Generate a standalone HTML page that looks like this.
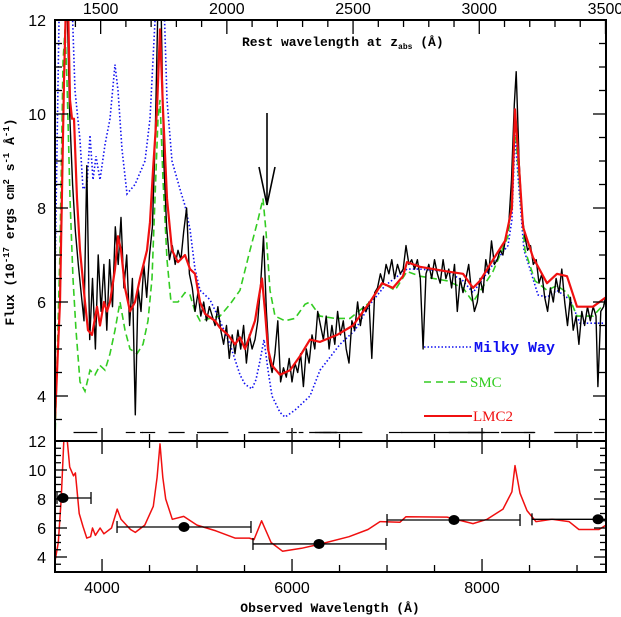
<!DOCTYPE html>
<html><head><meta charset="utf-8">
<style>
html,body{margin:0;padding:0;background:#fff;}
svg{display:block;}
text{font-family:"Liberation Sans",sans-serif;}
.lab{font-family:"Liberation Mono",monospace;font-weight:bold;font-size:13px;}
</style></head>
<body>
<svg id="chart" width="621" height="617" viewBox="0 0 621 617" xmlns="http://www.w3.org/2000/svg">
<defs>
<clipPath id="ctop"><rect x="55" y="20" width="551" height="421"/></clipPath>
<clipPath id="cbot"><rect x="55" y="441" width="551" height="131"/></clipPath>
</defs>
<g id="gTop" clip-path="url(#ctop)"></g>
<g id="gBot" clip-path="url(#cbot)"></g>
<g id="gAxes"></g>
</svg>
<script>
// ---------- data ----------
const redWave=[3505,3558,3600,3621,3642,3663,3684,3705,3737,3768,3821,3852,3895,3947,3979,4021,4052,4084,4137,4168,4200,4242,4294,4347,4400,4473,4505,4537,4579,4610,4642,4684,4737,4800,4873,4926,4979,5031,5084,5189,5242,5326,5400,5452,5505,5558,5610,5642,5684,5716,5747,5789,5873,5979,6084,6189,6294,6473,6642,6821,6947,7063,7168,7210,7347,7631,7800,7905,7979,8116,8242,8315,8347,8379,8431,8537,8684,8789,8894,9000,9168,9305];
const redFlux=[3.5,6.0,10.7,12.4,12.4,10.3,9.9,9.9,8.2,7.1,6.0,5.4,5.3,5.9,5.5,6.0,5.8,6.0,6.7,7.4,7.1,6.3,5.8,6.0,6.5,7.1,7.7,8.8,10.1,11.8,10.1,8.2,7.1,6.85,7.0,6.7,6.6,6.0,5.75,5.6,5.45,5.3,5.1,5.25,5.0,5.3,5.6,6.0,6.5,5.8,5.0,4.65,4.45,4.55,4.85,5.2,5.15,5.3,5.5,6.0,6.4,6.3,6.55,6.85,6.75,6.65,6.6,6.3,6.45,6.9,7.3,8.0,10.1,9.2,7.6,6.95,6.4,6.6,6.55,5.9,5.9,6.1];
const smcWave=[3505,3558,3589,3610,3631,3663,3695,3726,3768,3821,3873,3926,3979,4031,4084,4137,4189,4242,4294,4368,4431,4484,4526,4558,4589,4610,4642,4684,4726,4800,4873,4926,4979,5031,5137,5242,5347,5452,5558,5642,5694,5726,5768,5821,5926,6031,6137,6189,6294,6452,6610,6821,6958,7084,7210,7347,7631,7800,7905,8116,8273,8315,8347,8389,8452,8558,8684,8789,8894,9000,9168,9305];
const smcFlux=[3.05,7.1,11.1,11.8,10.7,8.2,6.5,5.4,4.3,4.1,4.55,4.45,4.65,4.55,4.9,5.4,6.0,5.4,5.0,4.9,5.1,5.6,6.5,8.2,9.9,10.3,8.6,6.9,6.0,6.0,6.2,6.15,5.8,5.6,5.65,5.7,5.95,6.25,7.1,7.75,8.2,7.5,6.25,5.7,5.6,5.65,5.95,6.0,5.7,5.65,5.65,6.0,6.4,6.25,6.65,6.55,6.45,6.3,6.0,6.65,7.4,8.15,9.8,8.6,7.1,6.45,6.25,6.35,6.2,5.7,5.7,6.0];
const mwWave=[3505,3526,3547,3579,3684,3716,3768,3800,3842,3873,3905,3937,3979,4031,4084,4137,4168,4210,4263,4347,4452,4505,4537,4568,4652,4684,4737,4821,4873,4926,4979,5031,5137,5242,5347,5452,5505,5579,5621,5663,5705,5747,5789,5873,5926,6031,6189,6294,6505,6663,6821,6979,7210,7347,7631,7800,7905,8116,8273,8315,8347,8389,8442,8505,8589,8684,8789,8926,9031,9305];
const mwFlux=[6.5,9.25,12.0,12.4,12.4,10.5,9.45,8.4,8.5,9.55,8.6,9.1,8.6,9.35,9.9,11.05,10.5,9.25,8.3,8.5,9.0,9.9,11.15,12.4,12.4,10.3,9.0,8.4,8.05,7.55,6.7,6.25,6.05,5.6,5.1,4.45,4.25,4.15,4.35,4.75,5.2,4.55,4.0,3.65,3.55,3.7,4.0,4.55,5.1,5.4,5.95,6.35,6.7,6.7,6.65,6.45,6.2,6.8,7.2,7.75,9.55,8.4,7.1,6.7,6.15,6.1,6.25,6.05,5.55,5.55];
const obsWave=[3600,3630,3660,3690,3720,3750,3780,3810,3840,3870,3900,3930,3960,3990,4020,4050,4080,4110,4140,4170,4200,4230,4260,4290,4320,4350,4380,4410,4440,4470,4500,4530,4560,4590,4620,4650,4680,4710,4740,4770,4800,4830,4860,4890,4920,4950,4980,5010,5040,5070,5100,5130,5160,5190,5220,5250,5280,5310,5340,5370,5400,5430,5460,5490,5520,5550,5580,5610,5640,5670,5700,5730,5760,5790,5820,5850,5880,5910,5940,5970,6000,6030,6060,6090,6120,6150,6180,6210,6240,6270,6300,6330,6360,6390,6420,6450,6480,6510,6540,6570,6600,6630,6660,6690,6720,6750,6780,6810,6840,6870,6900,6930,6960,6990,7020,7050,7080,7110,7140,7170,7200,7230,7260,7290,7320,7350,7380,7410,7440,7470,7500,7530,7560,7590,7620,7650,7680,7710,7740,7770,7800,7830,7860,7890,7920,7950,7980,8010,8040,8070,8100,8130,8160,8190,8220,8250,8280,8310,8340,8360,8390,8420,8450,8480,8510,8540,8570,8600,8630,8660,8690,8720,8750,8780,8810,8840,8870,8900,8930,8960,8990,9020,9050,9080,9110,9140,9170,9200,9220,9250,9280,9300];
const obsFlux=[11,12.5,10,8.5,7.5,6.8,6.2,5.6,8.9,5.2,6.5,5.0,7.0,5.8,6.8,5.4,6.9,5.9,7.6,6.8,7.8,6.3,7.0,5.5,6.5,3.6,6.3,5.8,6.8,6.1,7.0,7.6,9.5,12.5,12.5,9.0,7.6,6.9,7.2,6.8,7.1,6.9,7.5,8.0,6.6,6.3,5.8,6.2,5.7,6.0,5.6,5.9,5.7,5.5,5.9,5.4,5.1,5.5,4.8,5.3,4.9,5.4,5.0,5.5,4.7,5.3,5.0,5.2,5.6,6.4,7.4,5.8,4.8,4.5,4.9,5.6,4.3,4.6,4.4,4.8,4.3,4.7,4.5,4.9,4.2,5.0,4.7,5.3,5.0,5.8,5.5,5.2,5.7,5.0,5.5,5.1,5.8,5.3,5.6,5.0,4.7,5.6,5.4,6.0,5.5,5.9,5.8,6.0,4.8,6.2,6.3,6.6,6.4,6.8,6.6,6.9,6.5,6.8,6.6,6.7,7.2,6.8,6.9,6.7,6.9,6.5,5.0,6.6,6.8,6.5,6.9,6.6,6.4,6.9,6.5,6.7,6.3,6.8,5.8,6.5,6.2,6.5,6.8,6.2,5.8,6.0,6.5,6.2,6.9,6.6,7.3,6.8,6.9,7.1,7.0,7.4,7.6,8.6,10.2,10.9,9.0,7.9,7.4,7.1,7.2,6.8,6.9,6.4,6.6,6.1,5.8,6.3,6.0,6.5,6.2,6.7,6.0,5.5,6.1,5.4,5.7,5.1,5.8,5.5,5.9,5.6,5.9,5.7,4.2,5.8,5.9,6.1];
const botWave=[3505,3540,3570,3600,3630,3660,3700,3720,3760,3800,3840,3880,3900,3930,3980,4020,4100,4160,4200,4300,4350,4450,4540,4580,4610,4640,4670,4740,4860,5000,5200,5400,5550,5600,5680,5780,5900,6100,6300,6600,6800,6926,7137,7200,7631,7905,8053,8221,8315,8347,8400,8473,8568,8737,8915,9020,9231,9305];
const botFlux=[3.7,5.0,8.0,12.3,12.3,10.2,9.6,9.8,7.0,6.1,5.3,5.4,6.0,5.5,6.0,5.6,6.0,7.3,6.6,5.9,5.7,6.2,7.5,9.5,11.8,9.5,8.0,6.6,6.8,6.2,5.8,5.3,5.3,5.2,6.5,5.0,4.4,4.6,4.9,5.4,5.9,6.44,6.4,6.78,6.75,6.3,6.6,7.3,8.5,10.3,8.4,7.2,6.44,6.6,6.44,5.9,5.9,6.2];
const photWave=[3589,4863,6284,7705,9221];
const photFlux=[8.07,6.07,4.9,6.55,6.6];
const photLo=[3526,4158,5589,7000,8526];
const photHi=[3884,5568,6989,8400,9400];
const gapSegStart=[3700,4250,4400,4420,4700,5000,5540,5940,6010,6070,6180,6240,6290,6330,6450,6590,7020,7150,7650,7850,8200,8440,8760,9000,9180];
const gapSegEnd=[3950,4350,4430,4560,4870,5330,5870,6000,6050,6120,6470,6480,6410,6470,6590,6740,7160,8020,8030,8180,8550,8560,9020,9160,9290];
const xTicksObs=[4000,6000,8000];
const xTicksRest=[1500,2000,2500,3000,3500];
const yTicksTop=[4,6,8,10,12];
const yTicksBot=[4,6,8,10,12];
// ---------- scales ----------
const X0=55,X1=606,W0=3505,W1=9305;
const zp1=2.657;
function xs(w){return X0+(w-W0)*(X1-X0)/(W1-W0);}
function yt(f){return 20+(12-f)*47;}
function yb(f){return 441+(12-f)*14.5;}
const NS="http://www.w3.org/2000/svg";
function mk(tag,attrs,parent){const e=document.createElementNS(NS,tag);for(const k in attrs)e.setAttribute(k,attrs[k]);parent.appendChild(e);return e;}
const gTop=document.getElementById('gTop'),gBot=document.getElementById('gBot'),gAx=document.getElementById('gAxes');
function pts(ws,fs,yf){return ws.map((w,i)=>xs(w).toFixed(1)+','+yf(fs[i]).toFixed(1)).join(' ');}
// series
let p;
p=mk('polyline',{points:pts(mwWave,mwFlux,yt),fill:'none',stroke:'#1010f0','stroke-width':1.6,'stroke-dasharray':'1.5 2.2'},gTop);


p=mk('polyline',{points:pts(smcWave,smcFlux,yt),fill:'none',stroke:'#33cc22','stroke-width':1.6,'stroke-dasharray':'7 4'},gTop);


p=mk('polyline',{points:pts(obsWave,obsFlux,yt),fill:'none',stroke:'#000','stroke-width':1.4,'stroke-linejoin':'round'},gTop);


p=mk('polyline',{points:pts(redWave,redFlux,yt),fill:'none',stroke:'#f01010','stroke-width':2.2,'stroke-linejoin':'round'},gTop);


// gap dashes
for(let i=0;i<gapSegStart.length;i++){
  const s=mk('line',{x1:xs(gapSegStart[i]),x2:xs(gapSegEnd[i]),y1:432.5,y2:432.5,stroke:'#000','stroke-width':1.2},gAx);
  
  
}
// bottom curve
p=mk('polyline',{points:pts(botWave,botFlux,yb),fill:'none',stroke:'#f01010','stroke-width':1.5,'stroke-linejoin':'round'},gBot);


for(let i=0;i<photWave.length;i++){
  const y=yb(photFlux[i]);
  const g=mk('g',{},gBot);
  
  
  mk('line',{x1:xs(photLo[i]),x2:xs(photHi[i]),y1:y,y2:y,stroke:'#000','stroke-width':1.3},g);
  mk('line',{x1:xs(photLo[i]),x2:xs(photLo[i]),y1:y-6,y2:y+6,stroke:'#000','stroke-width':1.3},g);
  mk('line',{x1:xs(photHi[i]),x2:xs(photHi[i]),y1:y-6,y2:y+6,stroke:'#000','stroke-width':1.3},g);
  mk('ellipse',{cx:xs(photWave[i]),cy:y,rx:5.5,ry:5,fill:'#000'},g);
}
// axes frames
const f1=mk('rect',{x:55,y:20,width:551,height:421,fill:'none',stroke:'#000','stroke-width':2},gAx);


const f2=mk('rect',{x:55,y:441,width:551,height:131,fill:'none',stroke:'#000','stroke-width':2},gAx);


// x ticks (observed) every 500
for(let w=4000;w<=9000;w+=500){
  const x=xs(w),maj=(w%2000===0),L=maj?13:7;
  mk('line',{x1:x,x2:x,y1:441-L,y2:441+L,stroke:'#000','stroke-width':1.3},gAx);
  mk('line',{x1:x,x2:x,y1:572-L,y2:572,stroke:'#000','stroke-width':1.3},gAx);
}
for(const w of xTicksObs){
  const t=mk('text',{x:xs(w),y:593,'text-anchor':'middle','font-size':16},gAx);t.textContent=w;
  
  
}
// rest ticks every 100
for(let r=1400;r<=3500;r+=100){
  const x=xs(r*zp1);if(x<X0||x>X1)continue;
  const maj=(r%500===0),L=maj?14:7;
  mk('line',{x1:x,x2:x,y1:20,y2:20+L,stroke:'#000','stroke-width':1.3},gAx);
}
for(const r of xTicksRest){
  const t=mk('text',{x:xs(r*zp1),y:14,'text-anchor':'middle','font-size':16},gAx);t.textContent=r;
  
  
}
// y ticks
for(let v=3.5;v<=12;v+=0.5){
  const y=yt(v),maj=(v%2===0),L=maj?13:7;
  mk('line',{x1:55,x2:55+L,y1:y,y2:y,stroke:'#000','stroke-width':1.3},gAx);
  mk('line',{x1:606-L,x2:606,y1:y,y2:y,stroke:'#000','stroke-width':1.3},gAx);
}
for(let v=3.5;v<12;v+=0.5){
  const y=yb(v),maj=(v%2===0),L=maj?12:6;
  mk('line',{x1:55,x2:55+L,y1:y,y2:y,stroke:'#000','stroke-width':1.3},gAx);
  mk('line',{x1:606-L,x2:606,y1:y,y2:y,stroke:'#000','stroke-width':1.3},gAx);
}
for(const v of yTicksTop){
  const t=mk('text',{x:46,y:yt(v)+6,'text-anchor':'end','font-size':16},gAx);t.textContent=v;
  
  
}
for(const v of yTicksBot){
  const t=mk('text',{x:46,y:yb(v)+6,'text-anchor':'end','font-size':16},gAx);t.textContent=v;
  
  
}
</script>
<svg style="position:absolute;left:0;top:0" width="621" height="617" xmlns="http://www.w3.org/2000/svg">
<text class="lab" x="242" y="46">Rest wavelength at z<tspan font-size="8" dy="3">abs</tspan><tspan dy="-3"> (Å)</tspan></text>
<text class="lab" x="330" y="612" text-anchor="middle">Observed Wavelength (Å)</text>
<text class="lab" transform="translate(14,222) rotate(-90)" text-anchor="middle">Flux (10<tspan font-size="9" dy="-5">-17</tspan><tspan dy="5"> ergs cm</tspan><tspan font-size="9" dy="-5">2</tspan><tspan dy="5"> s</tspan><tspan font-size="9" dy="-5">-1</tspan><tspan dy="5"> Å</tspan><tspan font-size="9" dy="-5">-1</tspan><tspan dy="5">)</tspan></text>
<g stroke="#000" stroke-width="1.6" fill="none">
<line x1="267" y1="113" x2="267" y2="205"/><polyline points="259,167 267,205 275,167"/>
</g>
<g>
<line x1="424" y1="347" x2="472" y2="347" stroke="#1010f0" stroke-width="1.6" stroke-dasharray="1.5 2"/>
<text x="474" y="352" fill="#1010f0" class="lab" style="font-size:15px">Milky Way</text>
<line x1="424" y1="382" x2="467" y2="382" stroke="#33cc22" stroke-width="1.6" stroke-dasharray="7 5"/>
<text x="470" y="387" fill="#33cc22" font-size="15" style="font-family:'Liberation Serif',serif">SMC</text>
<line x1="424" y1="416" x2="472" y2="416" stroke="#f01010" stroke-width="2"/>
<text x="473" y="421" fill="#f01010" font-size="15" style="font-family:'Liberation Serif',serif">LMC2</text>
</g>
</svg>
</body></html>
